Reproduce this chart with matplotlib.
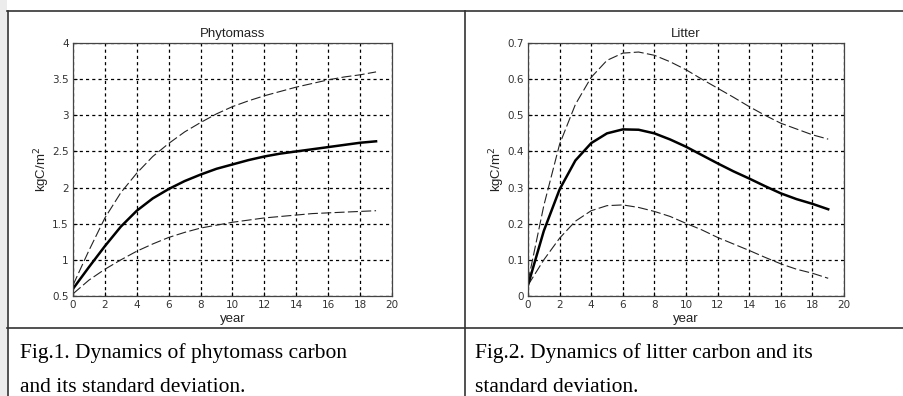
import numpy as np
import matplotlib
matplotlib.use("Agg")
import matplotlib.pyplot as plt
from matplotlib.lines import Line2D
from matplotlib.patches import Rectangle

years = np.arange(20)

phyto_mean = [0.6, 0.9, 1.19, 1.46, 1.68, 1.85, 1.98, 2.09, 2.18, 2.26, 2.32, 2.38, 2.43, 2.47, 2.5, 2.53, 2.56, 2.59, 2.62, 2.64]
phyto_upper = [0.65, 1.13, 1.58, 1.93, 2.2, 2.43, 2.61, 2.77, 2.9, 3.02, 3.12, 3.2, 3.27, 3.33, 3.39, 3.44, 3.49, 3.53, 3.56, 3.6]
phyto_lower = [0.53, 0.72, 0.87, 1.0, 1.12, 1.22, 1.31, 1.38, 1.44, 1.48, 1.52, 1.55, 1.58, 1.6, 1.62, 1.64, 1.65, 1.66, 1.67, 1.68]

litter_mean = [0.03, 0.18, 0.295, 0.375, 0.423, 0.45, 0.461, 0.46, 0.45, 0.433, 0.413, 0.39, 0.367, 0.345, 0.325, 0.304, 0.284, 0.268, 0.255, 0.24]
litter_upper = [0.04, 0.25, 0.42, 0.53, 0.605, 0.652, 0.672, 0.675, 0.666, 0.648, 0.626, 0.6, 0.575, 0.55, 0.524, 0.5, 0.478, 0.462, 0.446, 0.434]
litter_lower = [0.03, 0.1, 0.16, 0.207, 0.236, 0.25, 0.252, 0.245, 0.234, 0.22, 0.201, 0.183, 0.162, 0.144, 0.126, 0.107, 0.089, 0.074, 0.063, 0.049]

panels = [
    ("Phytomass", phyto_mean, phyto_upper, phyto_lower, (0.5, 4), np.arange(0.5, 4.01, 0.5), ["0.5", "1", "1.5", "2", "2.5", "3", "3.5", "4"]),
    ("Litter", litter_mean, litter_upper, litter_lower, (0, 0.7), np.arange(0, 0.71, 0.1), ["0", "0.1", "0.2", "0.3", "0.4", "0.5", "0.6", "0.7"]),
]
captions = [
    "Fig.1. Dynamics of phytomass carbon\nand its standard deviation.",
    "Fig.2. Dynamics of litter carbon and its\nstandard deviation.",
]

W, H = 904, 396
fig = plt.figure(figsize=(W / 100, H / 100), dpi=100)

def fx(px):
    return px / W

def fy(py):
    return 1 - py / H

ax_boxes = [(73, 43, 392, 296), (528, 43, 844, 296)]
sans = "Liberation Sans"

for (title, mean, upper, lower, ylim, yt, ytl), (x0, y0, x1, y1) in zip(panels, ax_boxes):
    ax = fig.add_axes([fx(x0), fy(y1), fx(x1 - x0), (y1 - y0) / H])
    ax.plot(years, upper, color="#222222", lw=0.8, dashes=(9, 3))
    ax.plot(years, lower, color="#222222", lw=0.8, dashes=(9, 3))
    ax.plot(years, mean, color="black", lw=1.8)
    ax.set_xlim(0, 20)
    ax.set_ylim(*ylim)
    ax.set_xticks(np.arange(0, 21, 2))
    ax.set_yticks(yt)
    ax.set_yticklabels(ytl)
    ax.grid(True, color="black", linestyle=(0, (2.5, 2.5)), lw=0.9)
    ax.tick_params(direction="in", length=3, labelsize=7.5, colors="black", labelcolor="#333333", pad=3)
    for sp in ax.spines.values():
        sp.set_color("#444444")
        sp.set_linewidth(0.9)
    ax.set_title(title, fontsize=9.5, family=sans, color="#222222", pad=4)
    ax.set_xlabel("year", fontsize=9.5, family=sans, color="#222222", labelpad=2)
    ax.set_ylabel("kgC/m$^2$", fontsize=9.5, family=sans, color="#222222", labelpad=0)

# table frame
fig.add_artist(Rectangle((0, 0), fx(7), 1, transform=fig.transFigure, color="#ececec", lw=0))
fig.add_artist(Line2D([fx(7), 1], [fy(10.5), fy(10.5)], color="#333333", lw=1.2))
fig.add_artist(Line2D([fx(7), 1], [fy(328), fy(328)], color="#333333", lw=1.2))
fig.add_artist(Line2D([fx(7.5), fx(7.5)], [0, fy(10.5)], color="#333333", lw=1.2))
fig.add_artist(Line2D([fx(464.5), fx(464.5)], [0, fy(10.5)], color="#333333", lw=1.2))

for cap, xpos in zip(captions, [20, 475]):
    l1, l2 = cap.split("\n")
    fig.text(fx(xpos), fy(358), l1, family="Liberation Serif", fontsize=15.5, va="baseline")
    fig.text(fx(xpos), fy(392), l2, family="Liberation Serif", fontsize=15.5, va="baseline")

fig.savefig("out.png", dpi=100)
